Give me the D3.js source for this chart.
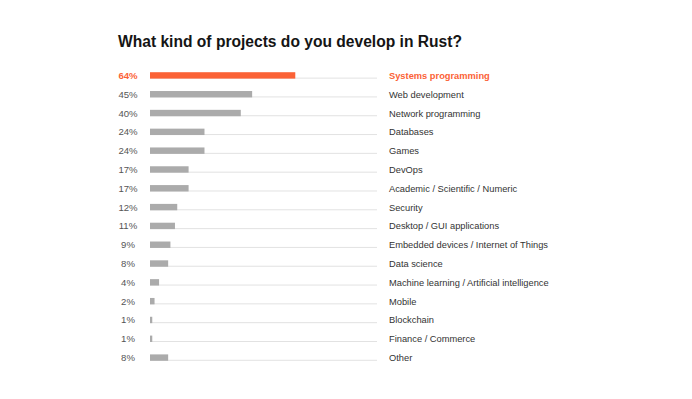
<!DOCTYPE html>
<html>
<head>
<meta charset="utf-8">
<script src="https://cdn.jsdelivr.net/npm/d3@7"></script>
<style>
  body { margin: 0; background: #fff; }
  svg text { font-family: "Liberation Sans", Arial, sans-serif; }
</style>
</head>
<body>
<div id="chart"></div>
<script>
// survey data
var categories = ['Systems programming', 'Web development', 'Network programming', 'Databases',
    'Games', 'DevOps', 'Academic / Scientific / Numeric', 'Security', 'Desktop / GUI applications',
    'Embedded devices / Internet of Things', 'Data science', 'Machine learning / Artificial intelligence',
    'Mobile', 'Blockchain', 'Finance / Commerce', 'Other'];
var values = [64, 45, 40, 24, 24, 17, 17, 12, 11, 9, 8, 4, 2, 1, 1, 8];

var width = 692,
    height = 399,
    orange = '#fb6236';

var svg = d3.select('#chart').append('svg')
    .attr('width', width)
    .attr('height', height);

svg.append('text')
    .attr('x', 118)
    .attr('y', 47)
    .attr('font-size', 15.6)
    .attr('font-weight', 700)
    .attr('fill', '#151515')
    .text('What kind of projects do you develop in Rust?');

var x = d3.scaleLinear().domain([0, 100]).range([150, 377]);
var y = d3.scaleBand().domain(categories).range([66, 367]).paddingInner(0.66).paddingOuter(0.33);

var rows = svg.selectAll('.row')
    .data(categories)
    .enter().append('g')
    .attr('class', 'row')
    .attr('transform', function(d) { return 'translate(0,' + y(d) + ')'; });

// background track
rows.append('rect')
    .attr('x', x(0))
    .attr('y', y.bandwidth() - 1)
    .attr('width', x(100) - x(0))
    .attr('height', 1)
    .attr('fill', '#e2e2e2');

rows.append('rect')
    .attr('x', x(0))
    .attr('y', 0)
    .attr('width', function(d, i) { return Math.max(x(values[i]) - x(0), 1.5); })
    .attr('height', y.bandwidth())
    .attr('fill', function(d, i) { return i === 0 ? orange : '#ababab'; });

rows.append('text')
    .attr('x', 128)
    .attr('y', y.bandwidth() / 2 + 3.5)
    .attr('text-anchor', 'middle')
    .attr('font-size', 9.6)
    .attr('font-weight', function(d, i) { return i === 0 ? 700 : 400; })
    .attr('fill', function(d, i) { return i === 0 ? orange : '#555'; })
    .text(function(d, i) { return values[i] + '%'; });

rows.append('text')
    .attr('x', 389)
    .attr('y', y.bandwidth() / 2 + 3.5)
    .attr('font-size', 9.3)
    .attr('font-weight', function(d, i) { return i === 0 ? 700 : 400; })
    .attr('fill', function(d, i) { return i === 0 ? orange : '#333'; })
    .text(function(d) { return d; });
</script>
</body>
</html>
